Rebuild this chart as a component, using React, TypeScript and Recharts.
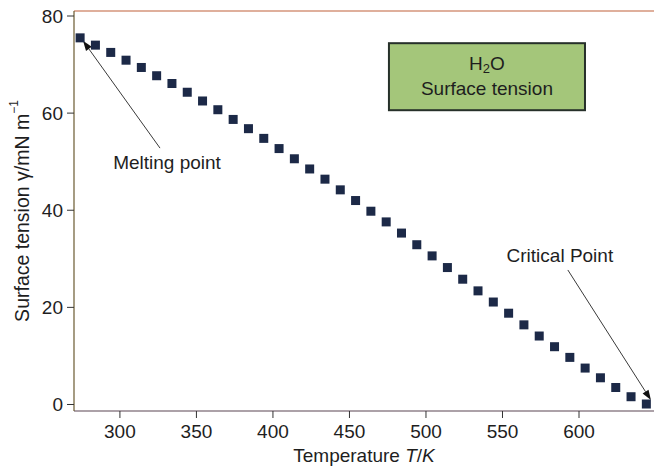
import React from 'react';
import {
  ScatterChart,
  Scatter,
  XAxis,
  YAxis,
  ReferenceArea,
  ReferenceLine,
  ReferenceDot,
  Label,
} from 'recharts';

// Temperature (K)
const temperatures = [
  274, 284, 294, 304, 314, 324, 334, 344, 354, 364,
  374, 384, 394, 404, 414, 424, 434, 444, 454, 464,
  474, 484, 494, 504, 514, 524, 534, 544, 554, 564,
  574, 584, 594, 604, 614, 624, 634, 644,
];
// Surface tension (mN/m)
const tensions = [
  75.5, 74.0, 72.5, 70.9, 69.4, 67.7, 66.1, 64.3, 62.5, 60.7,
  58.7, 56.8, 54.8, 52.7, 50.6, 48.5, 46.4, 44.2, 42.0, 39.8,
  37.6, 35.3, 32.9, 30.6, 28.2, 25.8, 23.4, 21.1, 18.8, 16.4,
  14.1, 11.9, 9.7, 7.5, 5.5, 3.5, 1.6, 0.1,
];
const xTicks = [300, 350, 400, 450, 500, 550, 600];
const yTicks = [0, 20, 40, 60, 80];
const xDomain = [270, 649];
const yDomain = [-1.34, 81.03];

// annotation anchor points (data coordinates)
const meltingArrow = [{ x: 326.2, y: 52.8 }, { x: 275.9, y: 74.9 }];
const criticalArrow = [{ x: 592.7, y: 27.7 }, { x: 647.0, y: 0.9 }];
const meltingText = { x: 330.8, y: 49.8, text: 'Melting point' };
const criticalText = { x: 587.5, y: 30.6, text: 'Critical Point' };
const box = { x1: 475.8, x2: 603.9, y1: 60.6, y2: 74.4 };

const data = temperatures.map((t, i) => ({ t, s: tensions[i] }));

const FONT = '"Liberation Sans", Arial, Helvetica, sans-serif';
const TEXT = '#1e1e1e';

const SquareDot = (props: any) => {
  const { cx, cy } = props;
  if (cx == null || cy == null) return null;
  const s = 9;
  return <rect x={cx - s / 2} y={cy - s / 2} width={s} height={s} fill="#1c2947" />;
};

const Arrow = (props: any) => {
  const { x1, y1, x2, y2 } = props;
  if ([x1, y1, x2, y2].some((v) => v == null || isNaN(v))) return null;
  const dx = x2 - x1;
  const dy = y2 - y1;
  const len = Math.sqrt(dx * dx + dy * dy);
  const ux = dx / len;
  const uy = dy / len;
  const hl = 10;
  const hw = 3.5;
  const bx = x2 - ux * hl;
  const by = y2 - uy * hl;
  const p1 = `${x2},${y2}`;
  const p2 = `${bx - uy * hw},${by + ux * hw}`;
  const p3 = `${bx + uy * hw},${by - ux * hw}`;
  return (
    <g>
      <line x1={x1} y1={y1} x2={bx} y2={by} stroke="#3a3a3a" strokeWidth={1} />
      <polygon points={`${p1} ${p2} ${p3}`} fill="#111" />
    </g>
  );
};

const makeTextShape = (text: string) => (props: any) => {
  const { cx, cy } = props;
  if (cx == null || cy == null) return null;
  return (
    <text
      x={cx}
      y={cy}
      textAnchor="middle"
      dominantBaseline="central"
      fontFamily={FONT}
      fontSize={19}
      fill={TEXT}
    >
      {text}
    </text>
  );
};

const BoxShape = (props: any) => {
  const { x, y, width, height } = props;
  if ([x, y, width, height].some((v) => v == null || isNaN(v))) return null;
  const cx = x + width / 2;
  return (
    <g>
      <rect x={x} y={y} width={width} height={height} fill="#a4c67a" stroke="#26302a" strokeWidth={2} />
      <text x={cx} y={y + 20} textAnchor="middle" dominantBaseline="central" fontFamily={FONT} fontSize={19} fill={TEXT}>
        <tspan>H</tspan>
        <tspan dy={5} fontSize={13}>2</tspan>
        <tspan dy={-5}>O</tspan>
      </text>
      <text x={cx} y={y + 45} textAnchor="middle" dominantBaseline="central" fontFamily={FONT} fontSize={19} fill={TEXT}>
        Surface tension
      </text>
    </g>
  );
};

const YLabel = (props: any) => {
  const vb = props.viewBox || {};
  const x = (vb.x ?? 0) + 22;
  const y = (vb.y ?? 0) + (vb.height ?? 0) / 2;
  return (
    <text
      x={x}
      y={y}
      transform={`rotate(-90, ${x}, ${y})`}
      textAnchor="middle"
      dominantBaseline="central"
      fontFamily={FONT}
      fontSize={19.5}
      fill={TEXT}
    >
      <tspan>Surface tension γ/mN m</tspan>
      <tspan dy={-8} fontSize={12}>−1</tspan>
    </text>
  );
};

const XLabel = (props: any) => {
  const vb = props.viewBox || {};
  const x = (vb.x ?? 0) + (vb.width ?? 0) / 2;
  const y = (vb.y ?? 0) + 44;
  return (
    <text x={x} y={y} textAnchor="middle" dominantBaseline="central" fontFamily={FONT} fontSize={19} fill={TEXT}>
      <tspan>Temperature </tspan>
      <tspan fontStyle="italic">T</tspan>
      <tspan>/</tspan>
      <tspan fontStyle="italic">K</tspan>
    </text>
  );
};

export default function App() {
  return (
    <div style={{ position: 'absolute', left: 0, top: 0, width: 654, height: 466, background: '#fff' }}>
      <ScatterChart width={654} height={466} margin={{ top: 11, right: 0, bottom: 0, left: 0 }}>
        <XAxis
          dataKey="t"
          type="number"
          domain={xDomain}
          ticks={xTicks}
          allowDataOverflow
          height={55}
          tickSize={7}
          tickMargin={7}
          tickLine={{ stroke: '#333' }}
          axisLine={{ stroke: '#5a4452', strokeWidth: 1.2 }}
          tick={{ fontFamily: FONT, fontSize: 19, fill: TEXT }}
        >
          <Label content={<XLabel />} />
        </XAxis>
        <YAxis
          dataKey="s"
          type="number"
          domain={yDomain}
          ticks={yTicks}
          allowDataOverflow
          width={74}
          tickSize={7}
          tickMargin={4}
          tickLine={{ stroke: '#333' }}
          axisLine={{ stroke: '#6a5a30', strokeWidth: 1.2 }}
          tick={{ fontFamily: FONT, fontSize: 19, fill: TEXT }}
        >
          <Label content={<YLabel />} />
        </YAxis>
        <ReferenceLine y={yDomain[1]} stroke="#c0603a" strokeWidth={1.2} ifOverflow="visible" />
        <ReferenceArea
          x1={box.x1}
          x2={box.x2}
          y1={box.y1}
          y2={box.y2}
          shape={<BoxShape />}
          ifOverflow="visible"
        />
        <Scatter data={data} shape={<SquareDot />} isAnimationActive={false} />
        <ReferenceLine segment={meltingArrow} shape={<Arrow />} ifOverflow="visible" />
        <ReferenceLine segment={criticalArrow} shape={<Arrow />} ifOverflow="visible" />
        <ReferenceDot x={meltingText.x} y={meltingText.y} r={0} shape={makeTextShape(meltingText.text)} ifOverflow="visible" />
        <ReferenceDot x={criticalText.x} y={criticalText.y} r={0} shape={makeTextShape(criticalText.text)} ifOverflow="visible" />
      </ScatterChart>
    </div>
  );
}
